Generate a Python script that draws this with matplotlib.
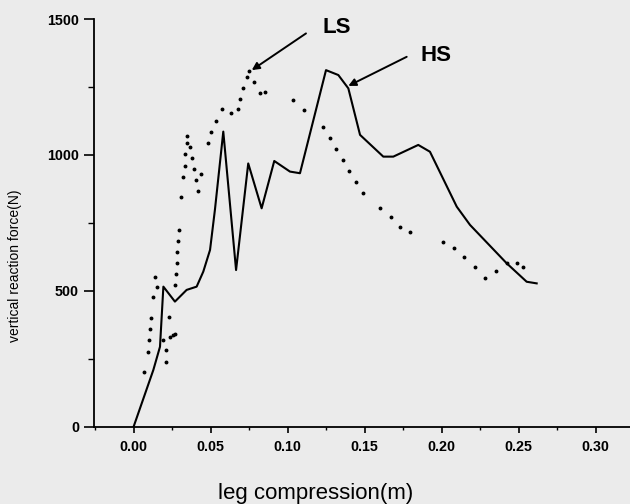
import numpy as np
import matplotlib
matplotlib.use('Agg')
import matplotlib.pyplot as plt
from matplotlib.ticker import MultipleLocator, FormatStrFormatter

# HS curve (solid line), leg compression in m, force in N
hs_x = [0.0, 0.0129, 0.0172, 0.0194, 0.0269, 0.0345, 0.041, 0.0453, 0.0497,
        0.0529, 0.0583, 0.0666, 0.0745, 0.0832, 0.0914, 0.1016, 0.1081,
        0.125, 0.133, 0.1395, 0.1471, 0.1622, 0.1687, 0.1849, 0.1925,
        0.2099, 0.2185, 0.2423, 0.2553, 0.2618]
hs_y = [0, 210, 295, 516, 461, 504, 516, 571, 651,
        800, 1086, 577, 969, 804, 978, 939, 933,
        1312, 1294, 1245, 1074, 994, 994, 1037, 1012,
        810, 743, 602, 534, 528]

# LS curve (dots)
ls_x = [0.0070, 0.0092, 0.0103, 0.0107, 0.0114, 0.0129, 0.0140, 0.0151,
        0.0190, 0.0211, 0.0211, 0.0232, 0.0240, 0.0255, 0.0270,
        0.0269, 0.0274, 0.0281, 0.0284, 0.0291, 0.0295,
        0.0308, 0.0319, 0.0332, 0.0334, 0.0345, 0.0345, 0.0367, 0.0380,
        0.0393, 0.0406, 0.0417, 0.0436, 0.0486, 0.0501, 0.0536, 0.0573,
        0.0631, 0.0677, 0.0692, 0.0713, 0.0739, 0.0750, 0.0784, 0.0821,
        0.0856, 0.1038, 0.1107, 0.1229, 0.1276, 0.1313, 0.1362, 0.1397,
        0.1445, 0.1492, 0.1600, 0.1672, 0.1730, 0.1795, 0.2008, 0.2081,
        0.2146, 0.2220, 0.2284, 0.2354, 0.2423, 0.2488, 0.2531]
ls_y = [203, 277, 320, 359, 400, 479, 553, 516,
        320, 283, 240, 405, 331, 337, 343,
        522, 563, 602, 644, 684, 724,
        847, 920, 961, 1003, 1043, 1071, 1030, 990,
        947, 908, 868, 929, 1043, 1086, 1126, 1168,
        1153, 1168, 1206, 1246, 1288, 1309, 1267, 1227,
        1233, 1202, 1165, 1104, 1061, 1022, 982, 942,
        900, 859, 806, 773, 736, 718, 679, 657,
        624, 589, 549, 575, 602, 602, 589]

bg = '#ebebeb'
fig = plt.figure(figsize=(6.3, 5.04), dpi=100, facecolor=bg)
ax = fig.add_axes([0.1497, 0.1528, 0.8503, 0.8095])
ax.set_facecolor(bg)

ax.plot(hs_x, hs_y, color='k', lw=1.5)
ax.plot(ls_x, ls_y, linestyle='none', marker='o', markersize=1.8, color='k')

ax.set_xlim(-0.02545, 0.3224)
ax.set_ylim(0, 1500)
ax.xaxis.set_major_locator(MultipleLocator(0.05))
ax.xaxis.set_minor_locator(MultipleLocator(0.025))
ax.yaxis.set_major_locator(MultipleLocator(500))
ax.yaxis.set_minor_locator(MultipleLocator(250))
ax.xaxis.set_major_formatter(FormatStrFormatter('%.2f'))

for s in ['top', 'right']:
    ax.spines[s].set_visible(False)
for s in ['left', 'bottom']:
    ax.spines[s].set_linewidth(1.3)

tick_font = dict(family='Liberation Sans', weight='bold', size=10.3)
ax.tick_params(axis='x', which='major', length=4.5, width=1.2, pad=5)
ax.tick_params(axis='x', which='minor', length=2.5, width=1.0)
ax.tick_params(axis='y', which='major', length=7, width=1.2, pad=4)
ax.tick_params(axis='y', which='minor', length=4, width=1.0)
for lab in ax.get_xticklabels() + ax.get_yticklabels():
    lab.set_fontproperties(tick_font)

ax.set_xlabel('leg compression(m)', family='Liberation Sans', size=16, va='center')
ax.xaxis.set_label_coords(0.414, -0.164)
ax.set_ylabel('vertical reaction force(N)', family='Liberation Sans', size=10, va='center')
ax.yaxis.set_label_coords(-0.148, 0.395)

arrow = dict(arrowstyle='-|>', color='k', lw=1.4, mutation_scale=11,
             shrinkA=0, shrinkB=0)
ax.annotate('', xy=(0.0768, 1312), xytext=(0.112, 1447), arrowprops=arrow)
ax.annotate('', xy=(0.1395, 1254), xytext=(0.1774, 1361), arrowprops=arrow)
ax.text(0.132, 1467, 'LS', family='Liberation Sans', weight='bold', size=16,
        ha='center', va='center')
ax.text(0.1964, 1364, 'HS', family='Liberation Sans', weight='bold', size=16,
        ha='center', va='center')

fig.savefig('out.png', dpi=100, facecolor=bg)
